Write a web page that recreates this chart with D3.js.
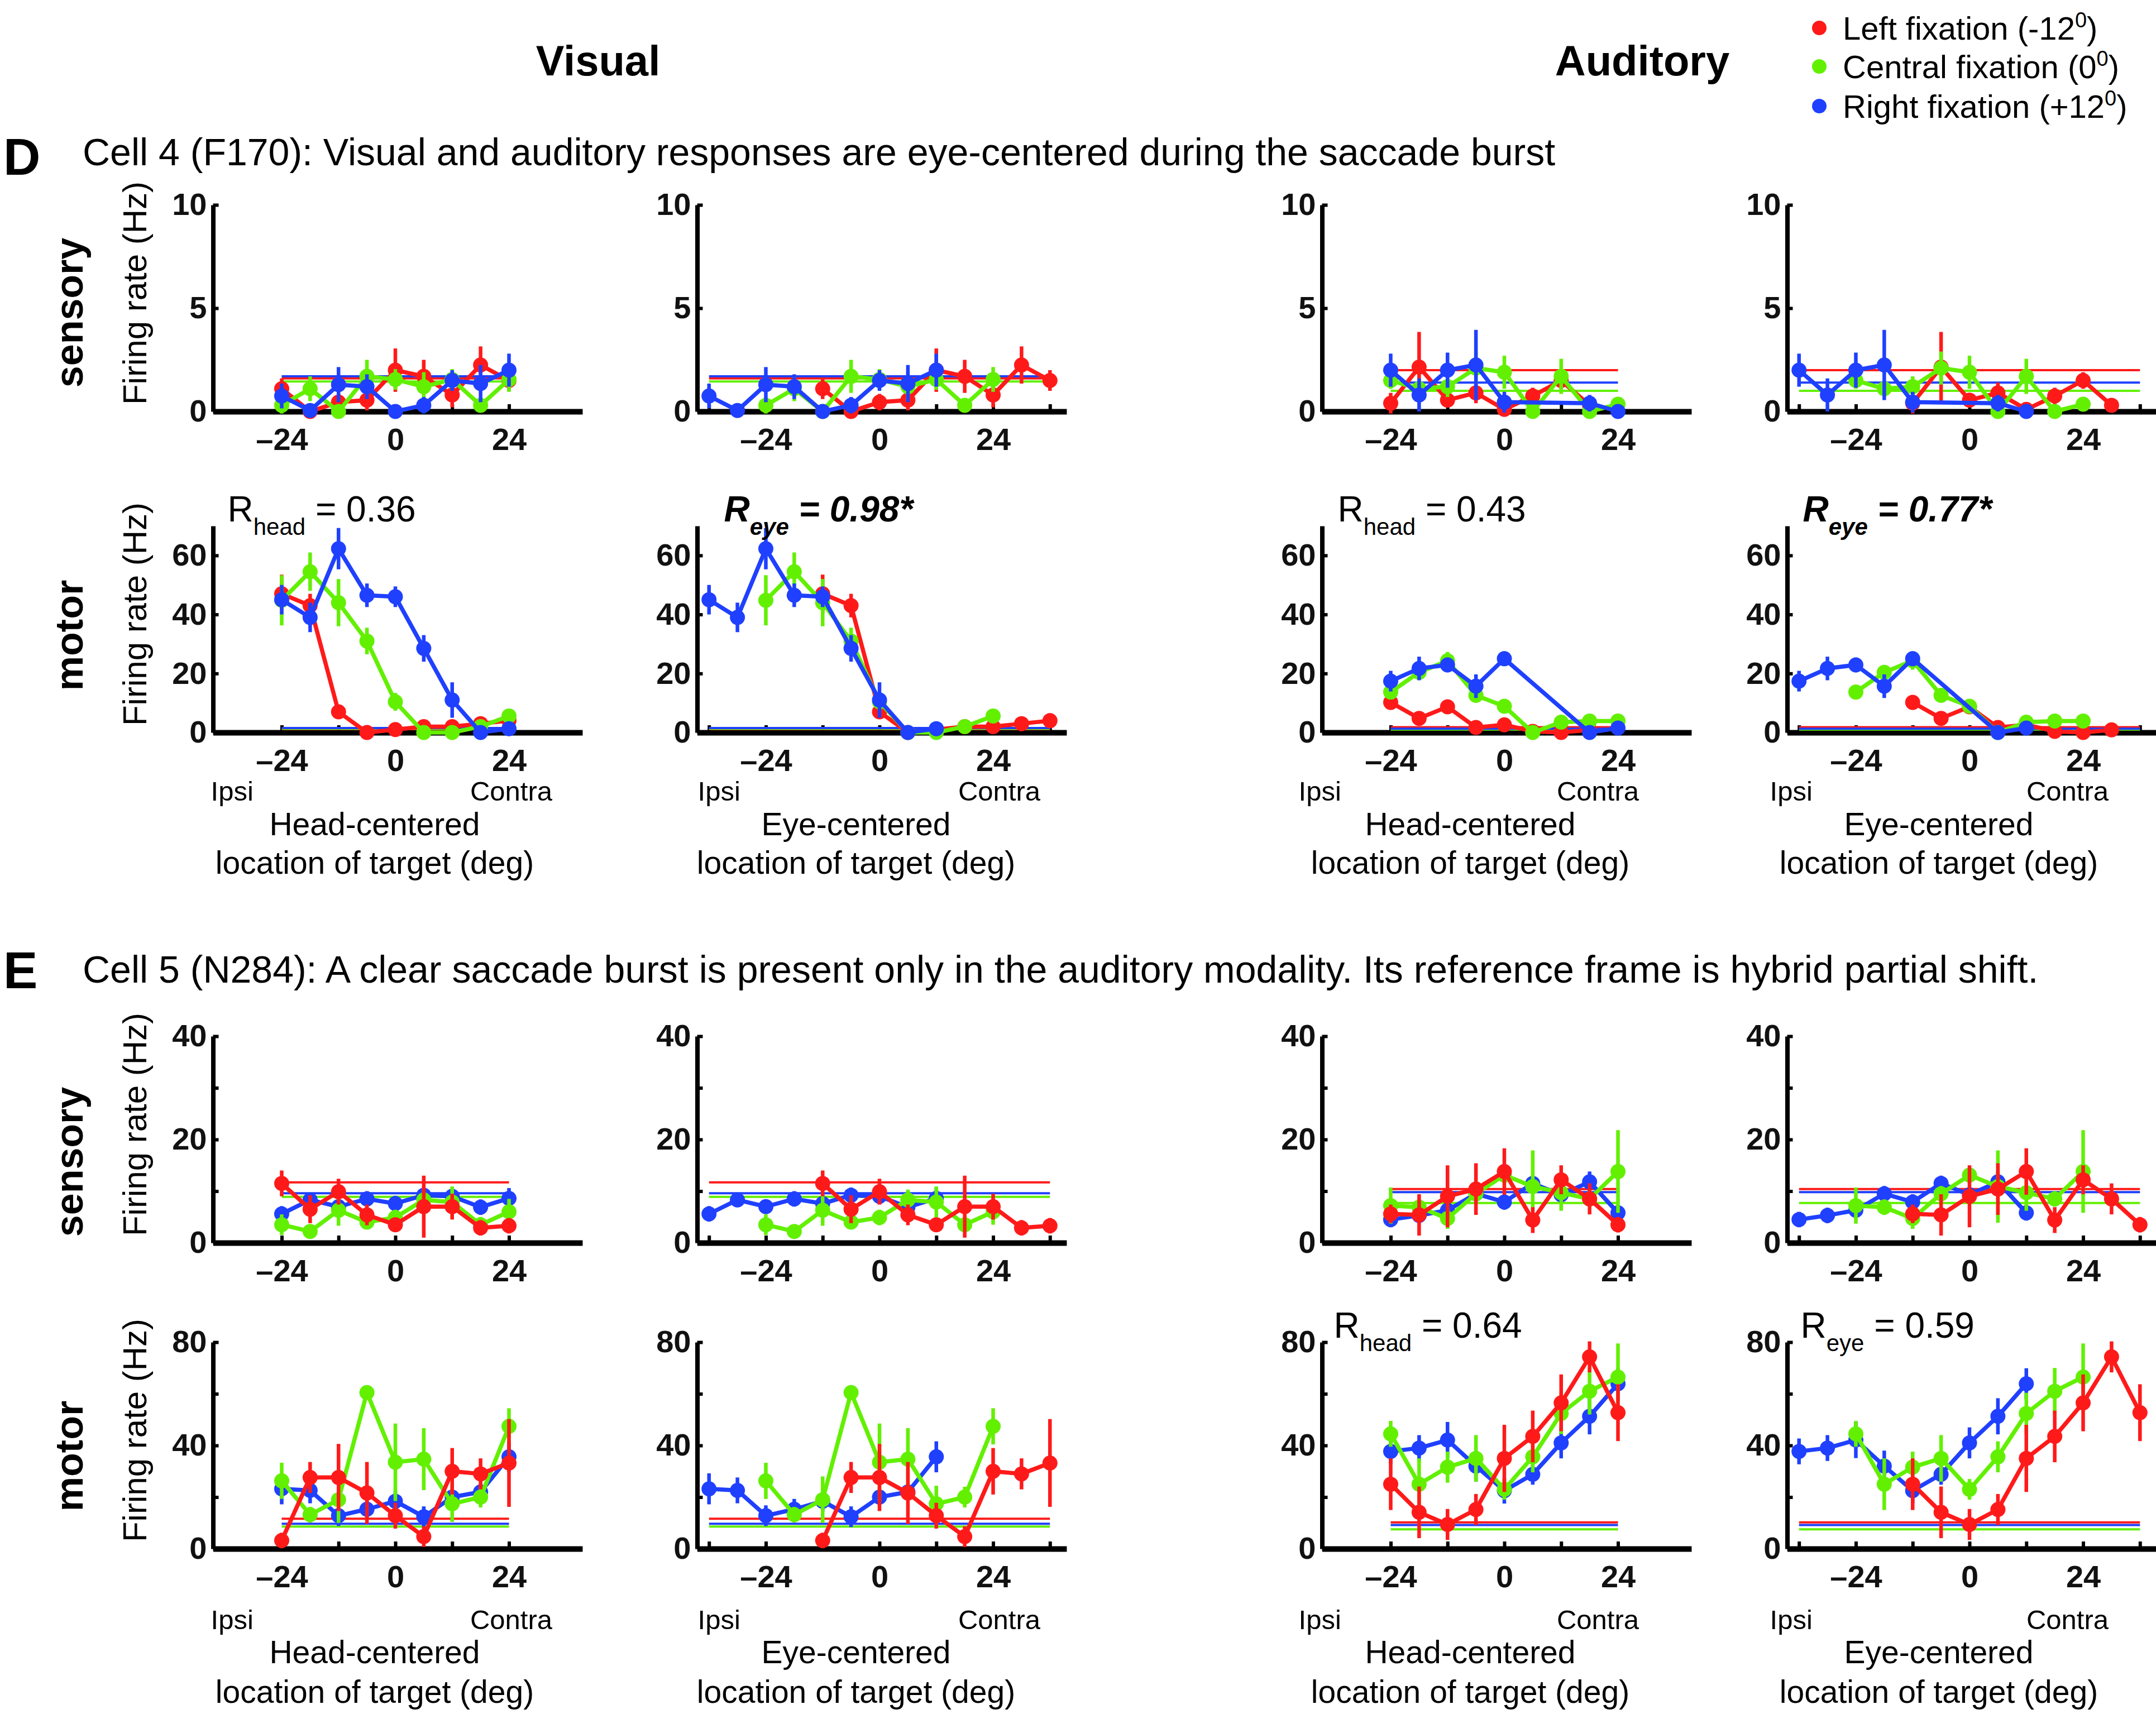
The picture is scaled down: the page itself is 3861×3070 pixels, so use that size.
<!DOCTYPE html>
<html>
<head>
<meta charset="utf-8">
<script src="https://cdn.jsdelivr.net/npm/d3@7"></script>
<style>
  body { margin: 0; background: #fff; }
  text { font-family: "Liberation Sans", Arial, Helvetica, sans-serif; }
</style>
</head>
<body>
<div id="fig"></div>
<script>
"use strict";

// ---------- data ----------
const headLocs = [-24, -18, -12, -6, 0, 6, 12, 18, 24];
const fixations = [-12, 0, 12];   // left, central, right
const fixColors = ["#ff1a1a", "#62f000", "#1f40ff"];
const legendLabels = ["Left fixation (-12", "Central fixation (0", "Right fixation (+12"];

// cell 4 (F170) -- each array: [left, central, right] fixation, values at headLocs
const c4VisSens = [
  [1.1, 0, 0.45, 0.55, 2.0, 1.7, 0.8, 2.25, 1.5],
  [0.3, 1.1, 0, 1.7, 1.55, 1.2, 1.55, 0.3, 1.55],
  [0.75, 0.05, 1.3, 1.2, 0, 0.3, 1.5, 1.35, 2.0]
];
const c4VisSensErr = [
  [0.5, 0.3, 0.4, 0.5, 1.05, 0.8, 0.6, 0.9, 0.5],
  [0.4, 0.6, 0.3, 0.8, 0.5, 0.7, 0.5, 0.3, 0.6],
  [0.6, 0.3, 0.85, 0.6, 0.3, 0.4, 0.5, 0.9, 0.8]
];
const c4VisSensBase = [1.6, 1.45, 1.7];

const c4VisMotor = [
  [47, 43, 7, 0, 1, 2, 2, 3, 4],
  [44.8, 54.5, 44, 31, 10.4, 0, 0, 2, 5.6],
  [45, 39, 62.3, 46.5, 46, 28.5, 11, 0, 1.3]
];
const c4VisMotorErr = [
  [6.5, 4, 2, 1, 1, 1, 1, 1, 2.5],
  [8.5, 6.5, 8, 4.5, 3, 1, 1, 1, 2],
  [5, 5, 7, 4, 3.5, 4.5, 6, 1, 1]
];
const c4VisMotorBase = [1.2, 1.3, 1.5];

const c4AudSens = [
  [0.4, 2.15, 0.55, 0.9, 0.1, 0.75, 1.5, 0.3, null],
  [1.5, 1.1, 1.2, 2.1, 1.9, 0, 1.7, 0, 0.35],
  [2.0, 0.8, 2.0, 2.25, 0.45, null, null, 0.4, 0]
];
const c4AudSensErr = [
  [0.5, 1.7, 0.3, 0.5, 0.3, 0.4, 0.4, 0.3, 0],
  [0.4, 0.4, 0.5, 0.8, 0.8, 0.3, 0.85, 0.3, 0.3],
  [0.8, 0.8, 0.85, 1.7, 0.5, 0, 0, 0.4, 0.2]
];
const c4AudSensBase = [2.0, 1.0, 1.4];

const c4AudMotor = [
  [10.2, 4.8, 8.7, 1.7, 2.6, 0.4, 0, 0.9, null],
  [13.7, 20.4, 24.3, 12.6, 8.9, 0, 3.5, 3.9, 3.9],
  [17.4, 21.7, 22.9, 15.7, 25, null, null, 0, 1.5]
];
const c4AudMotorErr = [
  [2.5, 1.5, 1.5, 1, 1, 1, 1, 1, 0],
  [2, 2, 3, 2, 2, 1, 1, 1, 1],
  [3.5, 4, 2.5, 4, 2.5, 0, 0, 1, 1]
];
const c4AudMotorBase = [1.8, 1.0, 1.3];

// cell 5 (N284)
const c5VisSens = [
  [11.5, 6.5, 9.9, 5.4, 3.5, 7.0, 7.0, 2.9, 3.3],
  [3.5, 2.2, 6.3, 4.0, 4.9, 8.3, 7.9, 3.5, 6.0],
  [5.6, 8.3, 7.0, 8.5, 7.6, 9.2, 9.0, 6.9, 8.6]
];
const c5VisSensErr = [
  [2.5, 2.7, 2.5, 2, 1, 6, 2.5, 1.5, 1.5],
  [2, 1, 3, 1, 1.5, 2, 3, 1.5, 2.5],
  [1.5, 1, 1, 1.5, 1.5, 1.5, 1.5, 1.5, 2]
];
const c5VisSensBase = [11.7, 8.9, 9.6];

const c5VisMotor = [
  [3.2, 27.6, 27.6, 21.6, 12.8, 4.7, 30, 29, 33.2],
  [26.3, 13.2, 19, 60.5, 33.5, 34.7, 17.4, 20, 47.4],
  [23.2, 22.6, 12.8, 15.3, 18.4, 12.4, 20, 22, 35.6]
];
const c5VisMotorErr = [
  [3, 6, 13, 12, 5, 4, 9, 6, 17],
  [7, 3, 9, 2, 15, 12, 7, 4, 7],
  [6, 5, 4, 4, 4, 4, 3, 3, 6]
];
const c5VisMotorBase = [11.6, 8.6, 9.7];

const c5AudSens = [
  [5.6, 5.4, 9.0, 10.4, 13.8, 4.4, 12.2, 8.5, 3.5],
  [7.2, 6.9, 4.7, 9.5, 13.1, 10.9, 9.7, 8.5, 13.8],
  [4.5, 5.3, 6.3, 9.5, 7.9, 11.5, 9.3, 11.8, 5.8]
];
const c5AudSensErr = [
  [1.8, 4, 6, 5, 4.5, 2.5, 2.8, 3, 1.5],
  [3.5, 1.5, 2, 1.5, 1.5, 7, 3.5, 1.5, 8],
  [1.5, 1.5, 1.5, 1.5, 1.5, 1.5, 1.5, 2, 1.5]
];
const c5AudSensBase = [10.4, 7.7, 9.8];

const c5AudMotor = [
  [25, 14.1, 9.4, 15.2, 35, 43.5, 56.5, 74.3, 52.7],
  [44.5, 25, 31.6, 35, 23, 35.6, 52.4, 61, 66.5],
  [37.7, 39, 42.1, 32, 22.5, 28.8, 41, 51.3, 63.9]
];
const c5AudMotorErr = [
  [10, 10, 6, 6, 13, 10, 11, 6, 11],
  [5, 10, 6, 9, 4, 6, 8, 9, 13],
  [5, 5, 7, 6, 5, 4, 6, 7, 6]
];
const c5AudMotorBase = [10.2, 7.5, 9.2];

// y axis ticks per row (D sensory, D motor, E sensory, E motor)
const rowYMax = [10, 70, 40, 80];
const rowYTicks = [[0, 5, 10], [0, 20, 40, 60], [0, 10, 20, 30, 40], [0, 20, 40, 60, 80]];
const rowYLabels = [[0, 5, 10], [0, 20, 40, 60], [0, 20, 40], [0, 40, 80]];

const frameTicks = { head: [-24, -12, 0, 12, 24], eye: [-36, -24, -12, 0, 12, 24, 36] };
const xTickLabels = [-24, 0, 24];

const rLabels = [
  { row: 1, col: 0, sub: "head", val: "= 0.36", sig: false, dx: 26 },
  { row: 1, col: 1, sub: "eye", val: "= 0.98*", sig: true, dx: 48 },
  { row: 1, col: 2, sub: "head", val: "= 0.43", sig: false, dx: 28 },
  { row: 1, col: 3, sub: "eye", val: "= 0.77*", sig: true, dx: 28 },
  { row: 3, col: 2, sub: "head", val: "= 0.64", sig: false, dx: 21 },
  { row: 3, col: 3, sub: "eye", val: "= 0.59", sig: false, dx: 24 }
];

// ---------- layout ----------
const W = 3861, H = 3070;
const colX0 = [708, 1575, 2694, 3527];   // pixel x of 0 deg in each column
const pxPerDeg = 8.48;
const xMin = -38.5, xMax = 39.5;
const rowY0 = [737, 1312, 2226, 2774];   // pixel y of 0 Hz in each row
const plotH = 370;

const svg = d3.select("#fig").append("svg")
  .attr("width", W)
  .attr("height", H)
  .attr("viewBox", `0 0 ${W} ${H}`);

svg.append("rect").attr("width", W).attr("height", H).attr("fill", "#fff");

const fmtDeg = d => d < 0 ? "\u2013" + (-d) : String(d);

// one panel: axes, baselines, tuning curves
function drawPanel(o) {
  const x = d3.scaleLinear()
    .domain([xMin, xMax])
    .range([o.x0 + xMin * pxPerDeg, o.x0 + xMax * pxPerDeg]);
  const y = d3.scaleLinear()
    .domain([0, o.yMax])
    .range([o.y0, o.y0 - plotH]);

  const g = svg.append("g");

  const ya = g.append("g")
    .attr("transform", `translate(${x(xMin)},0)`)
    .call(d3.axisLeft(y)
      .tickValues(o.yTicks)
      .tickSize(-10)
      .tickSizeOuter(0)
      .tickPadding(11)
      .tickFormat(d => o.yLabels.includes(d) ? d : ""));
  ya.attr("font-size", 56).attr("font-weight", "bold")
    .attr("font-family", "'Liberation Sans', Arial, sans-serif");
  ya.select(".domain").attr("stroke-width", 8);
  ya.selectAll(".tick line").attr("stroke-width", 6);
  ya.selectAll(".tick text").attr("fill", "#111");

  const xa = g.append("g")
    .attr("transform", `translate(0,${o.y0})`)
    .call(d3.axisBottom(x)
      .tickValues(frameTicks[o.frame])
      .tickSize(-13)
      .tickSizeOuter(0)
      .tickPadding(29)
      .tickFormat(d => xTickLabels.includes(d) ? fmtDeg(d) : ""));
  xa.attr("font-size", 56).attr("font-weight", "bold")
    .attr("font-family", "'Liberation Sans', Arial, sans-serif");
  xa.select(".domain").attr("stroke-width", 10);
  xa.selectAll(".tick line").attr("stroke-width", 6);
  xa.selectAll(".tick text").attr("fill", "#111");

  const span = o.frame === "eye" ? [-36, 36] : [-24, 24];

  // spontaneous-rate baselines
  o.order.forEach(k => {
    g.append("line")
      .attr("x1", x(span[0])).attr("x2", x(span[1]))
      .attr("y1", y(o.base[k])).attr("y2", y(o.base[k]))
      .attr("stroke", fixColors[k])
      .attr("stroke-width", 4);
  });

  const line = d3.line().x(d => x(d.loc)).y(d => y(d.v));

  o.order.forEach(k => {
    const pts = headLocs.map((h, i) => ({
      loc: o.frame === "eye" ? h - fixations[k] : h,
      v: o.means[k][i],
      e: o.errs[k][i]
    })).filter(d => d.v != null);

    const s = g.append("g");
    s.selectAll("line.err")
      .data(pts)
      .join("line")
      .attr("class", "err")
      .attr("x1", d => x(d.loc)).attr("x2", d => x(d.loc))
      .attr("y1", d => y(d.v - d.e)).attr("y2", d => y(d.v + d.e))
      .attr("stroke", fixColors[k])
      .attr("stroke-width", 6.5);
    s.append("path")
      .datum(pts)
      .attr("fill", "none")
      .attr("stroke", fixColors[k])
      .attr("stroke-width", 7.5)
      .attr("stroke-linejoin", "round")
      .attr("d", line);
    s.selectAll("circle")
      .data(pts)
      .join("circle")
      .attr("cx", d => x(d.loc))
      .attr("cy", d => y(d.v))
      .attr("r", 13.5)
      .attr("fill", fixColors[k]);
  });
}

// ---------- panels ----------
const cells = [
  { rows: [0, 1], order: [0, 1, 2],
    vis: [[c4VisSens, c4VisSensErr, c4VisSensBase], [c4VisMotor, c4VisMotorErr, c4VisMotorBase]],
    aud: [[c4AudSens, c4AudSensErr, c4AudSensBase], [c4AudMotor, c4AudMotorErr, c4AudMotorBase]] },
  { rows: [2, 3], order: [2, 1, 0],
    vis: [[c5VisSens, c5VisSensErr, c5VisSensBase], [c5VisMotor, c5VisMotorErr, c5VisMotorBase]],
    aud: [[c5AudSens, c5AudSensErr, c5AudSensBase], [c5AudMotor, c5AudMotorErr, c5AudMotorBase]] }
];

cells.forEach(cell => {
  cell.rows.forEach((row, ep) => {
    [cell.vis[ep], cell.vis[ep], cell.aud[ep], cell.aud[ep]].forEach((set, col) => {
      drawPanel({
        x0: colX0[col],
        y0: rowY0[row],
        frame: col % 2 === 0 ? "head" : "eye",
        means: set[0], errs: set[1], base: set[2],
        yMax: rowYMax[row],
        yTicks: rowYTicks[row],
        yLabels: rowYLabels[row],
        order: cell.order
      });
    });
  });
});

// ---------- text ----------

// column headings
[["Visual", 1071], ["Auditory", 2941]].forEach(([t, cx]) => {
  svg.append("text")
    .attr("x", cx).attr("y", 135)
    .attr("text-anchor", "middle")
    .attr("font-size", 76).attr("font-weight", "bold")
    .text(t);
});

// legend
const legY = [50, 119, 190];
legendLabels.forEach((t, k) => {
  svg.append("circle")
    .attr("cx", 3258).attr("cy", legY[k]).attr("r", 13)
    .attr("fill", fixColors[k]);
  const tx = svg.append("text")
    .attr("x", 3300).attr("y", legY[k] + 21)
    .attr("font-size", 58);
  tx.append("tspan").text(t);
  tx.append("tspan").attr("dy", -22).attr("font-size", 38).text("0");
  tx.append("tspan").attr("dy", 22).text(")");
});

// cell headers
const cellHeads = [
  { letter: "D", y: 313, ty: 296, text: "Cell 4 (F170): Visual and auditory responses are eye-centered during the saccade burst" },
  { letter: "E", y: 1770, ty: 1760, text: "Cell 5 (N284): A clear saccade burst is present only in the auditory modality. Its reference frame is hybrid partial shift." }
];
cellHeads.forEach(c => {
  svg.append("text")
    .attr("x", 6).attr("y", c.y)
    .attr("font-size", 92).attr("font-weight", "bold")
    .text(c.letter);
  svg.append("text")
    .attr("x", 148).attr("y", c.ty)
    .attr("font-size", 68)
    .text(c.text);
});

// row labels and y axis titles
const rowNames = ["sensory", "motor", "sensory", "motor"];
const rowNameY = [560, 1138, 2081, 2608];
rowNames.forEach((t, r) => {
  svg.append("text")
    .attr("transform", `translate(148,${rowNameY[r]}) rotate(-90)`)
    .attr("text-anchor", "middle")
    .attr("font-size", 70).attr("font-weight", "bold")
    .text(t);
  svg.append("text")
    .attr("transform", `translate(262,${rowY0[r] - 212}) rotate(-90)`)
    .attr("text-anchor", "middle")
    .attr("font-size", 60)
    .text("Firing rate (Hz)");
});

// x axis annotations under the motor rows
const ipsiDx = [-4, 1, -42, -31];
const contraEnd = [281, 288, 241, 249];
const frameDx = [-37, -42, -61, -55];
const frameNames = ["Head-centered", "Eye-centered", "Head-centered", "Eye-centered"];
const labelDy = { 1: [122, 184, 253], 3: [144, 205, 276] };
[1, 3].forEach(row => {
  const dy = labelDy[row];
  colX0.forEach((x0, col) => {
    const left = x0 + xMin * pxPerDeg;
    svg.append("text")
      .attr("x", left + ipsiDx[col]).attr("y", rowY0[row] + dy[0])
      .attr("font-size", 49).text("Ipsi");
    svg.append("text")
      .attr("x", x0 + contraEnd[col]).attr("y", rowY0[row] + dy[0])
      .attr("text-anchor", "end")
      .attr("font-size", 49).text("Contra");
    svg.append("text")
      .attr("x", x0 + frameDx[col]).attr("y", rowY0[row] + dy[1])
      .attr("text-anchor", "middle")
      .attr("font-size", 57).text(frameNames[col]);
    svg.append("text")
      .attr("x", x0 + frameDx[col]).attr("y", rowY0[row] + dy[2])
      .attr("text-anchor", "middle")
      .attr("font-size", 57).text("location of target (deg)");
  });
});

// correlation labels
rLabels.forEach(r => {
  const left = colX0[r.col] + xMin * pxPerDeg;
  const t = svg.append("text")
    .attr("x", left + r.dx)
    .attr("y", rowY0[r.row] - plotH - 8)
    .attr("font-size", 64)
    .attr("font-weight", r.sig ? "bold" : "normal")
    .attr("font-style", r.sig ? "italic" : "normal");
  t.append("tspan").text("R");
  t.append("tspan").attr("dy", 24).attr("font-size", 42).text(r.sub);
  t.append("tspan").attr("dy", -24).text(" " + r.val);
});
</script>
</body>
</html>
